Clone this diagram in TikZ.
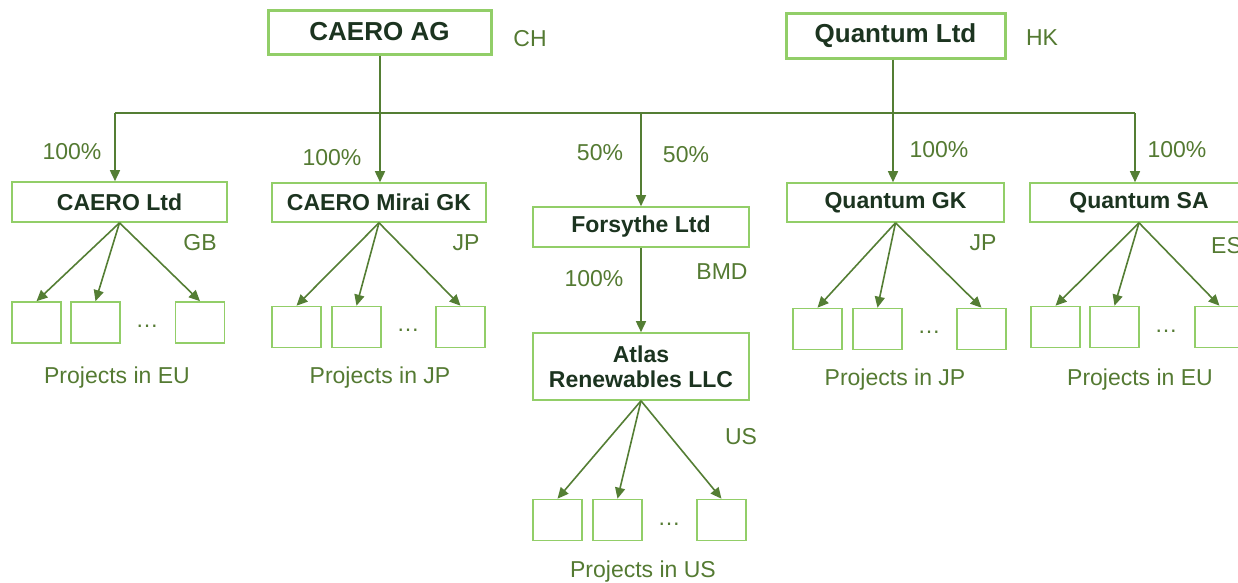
\documentclass[tikz,border=0pt]{standalone}
\usepackage{fontspec}
\setmainfont{Liberation Sans}
\usetikzlibrary{arrows.meta}
\definecolor{boxgreen}{RGB}{146,206,104}
\definecolor{linegreen}{RGB}{84,126,52}
\definecolor{labelgreen}{RGB}{84,122,50}
\definecolor{boxtext}{RGB}{28,52,32}
\tikzset{
  topbox/.style={draw=boxgreen,line width=3pt,fill=white,font=\fontsize{26}{30}\selectfont\bfseries,text=boxtext,inner sep=0pt},
  entbox/.style={draw=boxgreen,line width=1.6pt,fill=white,font=\fontsize{23}{26}\selectfont\bfseries,text=boxtext,inner sep=0pt,align=center},
  projbox/.style={draw=boxgreen,line width=1.6pt,minimum width=49pt,minimum height=41pt,inner sep=0pt},
  lbl/.style={text=labelgreen,font=\fontsize{23}{26}\selectfont,inner sep=0pt},
  conn/.style={draw=linegreen,line width=1.6pt},
  arr/.style={conn,-{Triangle[length=11pt,width=10pt]}},
}
\begin{document}
\begin{tikzpicture}[x=1pt,y=-1pt]
\useasboundingbox (0,0) rectangle (1238,582);
% top-level
\node[topbox,minimum width=223pt,minimum height=44pt] (cag) at (379.5,32) {CAERO AG};
\node[topbox,minimum width=219pt,minimum height=45pt] (qltd) at (895.5,35.5) {Quantum Ltd};
\node[lbl] (ch) at (530,39) {CH};
\node[lbl] (hk) at (1042,38) {HK};
% subsidiaries
\node[entbox,minimum width=215pt,minimum height=40pt] (clt) at (119.5,202) {CAERO Ltd};
\node[entbox,minimum width=214pt,minimum height=39pt] (cmg) at (379,202.5) {CAERO Mirai GK};
\node[entbox,minimum width=216pt,minimum height=40pt] (fsl) at (641,227) {Forsythe Ltd};
\node[entbox,minimum width=217pt,minimum height=39pt] (qgk) at (895.5,202.5) {Quantum GK};
\node[entbox,minimum width=218pt,minimum height=39pt] (qsa) at (1139,202.5) {Quantum SA};
\node[entbox,minimum width=216pt,minimum height=67pt] (atl) at (641,366.5) {Atlas\\[-1pt]Renewables LLC};
% bus
\coordinate (b1) at (115,113);
\coordinate (b2) at (380,113);
\coordinate (b3) at (641,113);
\coordinate (b4) at (893,113);
\coordinate (b5) at (1135,113);
\draw[conn] (b1) -- (b5);
\draw[conn] (cag.south -| b2) -- (b2);
\draw[conn] (qltd.south -| b4) -- (b4);
\draw[arr] (b1) -- (b1 |- clt.north);
\draw[arr] (b2) -- (b2 |- cmg.north);
\draw[arr] (b3) -- (b3 |- fsl.north);
\draw[arr] (b4) -- (b4 |- qgk.north);
\draw[arr] (b5) -- (b5 |- qsa.north);
\draw[arr] (fsl.south) -- (atl.north);
% percentages
\node[lbl] (p1) at (72,152) {100\%};
\node[lbl] (p2) at (332,158) {100\%};
\node[lbl] (p3) at (600,153) {50\%};
\node[lbl] (p4) at (686,155) {50\%};
\node[lbl] (p5) at (939,150) {100\%};
\node[lbl] (p6) at (1177,150) {100\%};
\node[lbl] (p7) at (594,279) {100\%};
% countries
\node[lbl] (gb) at (200,243) {GB};
\node[lbl] (jp1) at (466,243) {JP};
\node[lbl] (bmd) at (722,272) {BMD};
\node[lbl] (jp2) at (983,243) {JP};
\node[lbl,anchor=west] (es) at (1211,246) {ES};
\node[lbl] (us) at (741,437) {US};
% project groups
% CAERO Ltd
\node[projbox] (a1) at (36.5,322.5) {};
\node[projbox] (a2) at (95.5,322.5) {};
\node[projbox] (a3) at (200,322.5) {};
\node[lbl] (ad) at (147,326) {\dots};
\node[lbl] (al) at (117,378) {Projects in EU};
\draw[arr] (clt.south) -- (a1.north);
\draw[arr] (clt.south) -- (a2.north);
\draw[arr] (clt.south) -- (a3.north);
% Mirai
\node[projbox] (m1) at (296.5,327) {};
\node[projbox] (m2) at (356.5,327) {};
\node[projbox] (m3) at (460.5,327) {};
\node[lbl] (md) at (408,330) {\dots};
\node[lbl] (ml) at (380,378) {Projects in JP};
\draw[arr] (cmg.south) -- (m1.north);
\draw[arr] (cmg.south) -- (m2.north);
\draw[arr] (cmg.south) -- (m3.north);
% Atlas
\node[projbox] (u1) at (557.5,520) {};
\node[projbox] (u2) at (617.5,520) {};
\node[projbox] (u3) at (721.5,520) {};
\node[lbl] (ud) at (669,524) {\dots};
\node[lbl] (ul) at (643,572) {Projects in US};
\draw[arr] (atl.south) -- (u1.north);
\draw[arr] (atl.south) -- (u2.north);
\draw[arr] (atl.south) -- (u3.north);
% Quantum GK
\node[projbox] (g1) at (817.5,329) {};
\node[projbox] (g2) at (877.5,329) {};
\node[projbox] (g3) at (981.5,329) {};
\node[lbl] (gd) at (929,332) {\dots};
\node[lbl] (gl) at (895,380) {Projects in JP};
\draw[arr] (qgk.south) -- (g1.north);
\draw[arr] (qgk.south) -- (g2.north);
\draw[arr] (qgk.south) -- (g3.north);
% Quantum SA
\node[projbox] (s1) at (1055.5,327) {};
\node[projbox] (s2) at (1114.5,327) {};
\node[projbox] (s3) at (1219.5,327) {};
\node[lbl] (sd) at (1166,331) {\dots};
\node[lbl] (sl) at (1140,380) {Projects in EU};
\draw[arr] (qsa.south) -- (s1.north);
\draw[arr] (qsa.south) -- (s2.north);
\draw[arr] (qsa.south) -- (s3.north);
\end{tikzpicture}
\end{document}
